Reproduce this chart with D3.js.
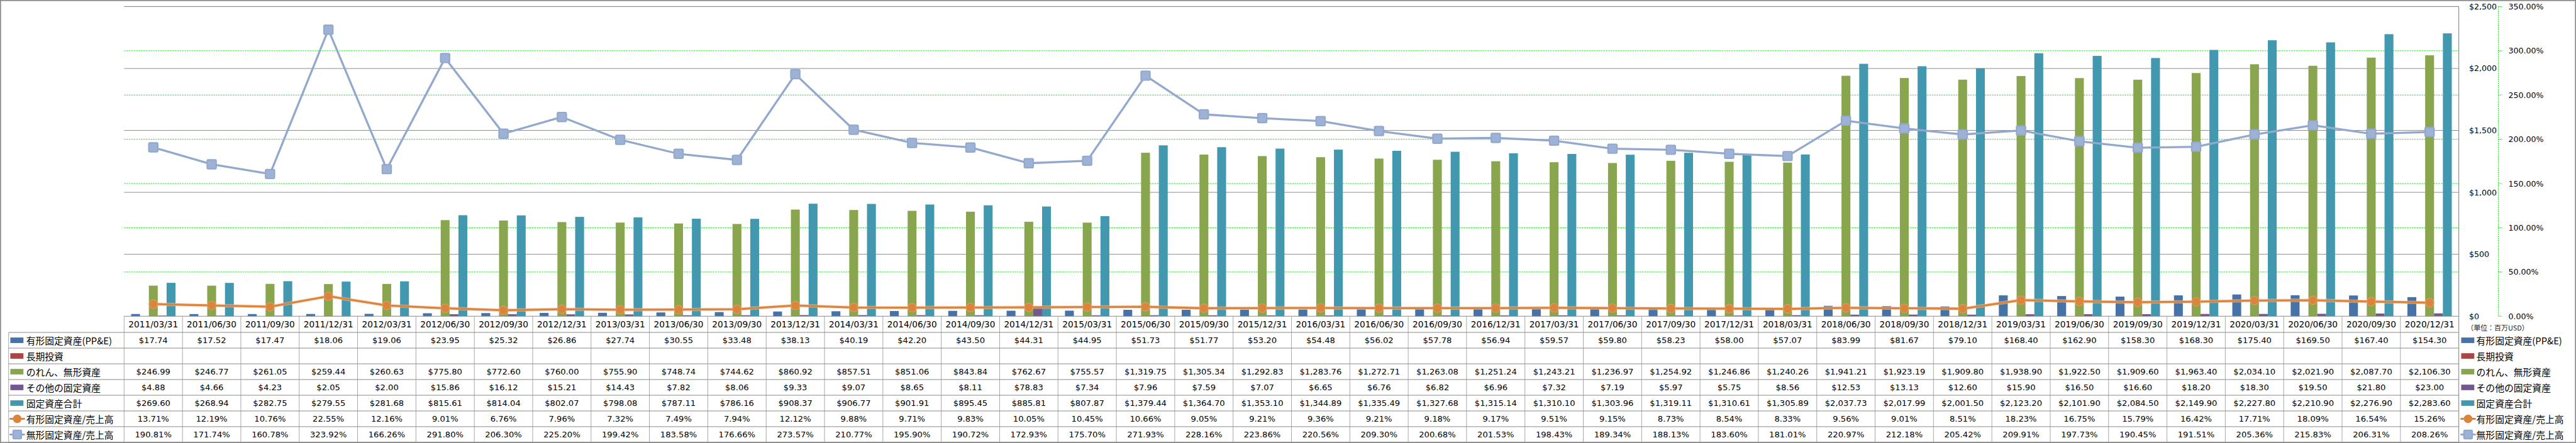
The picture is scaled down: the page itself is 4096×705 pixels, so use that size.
<!DOCTYPE html>
<html><head><meta charset="utf-8">
<script src="https://cdn.jsdelivr.net/npm/d3@7/dist/d3.min.js"></script>
<style>html,body{margin:0;padding:0;background:#fff;overflow:hidden}</style>
</head><body>
<svg id="c" width="4096" height="705" viewBox="0 0 7472 1286"></svg>
<script>
// ---------------- data ----------------
const categories = ["2011/03/31","2011/06/30","2011/09/30","2011/12/31","2012/03/31","2012/06/30","2012/09/30","2012/12/31",
"2013/03/31","2013/06/30","2013/09/30","2013/12/31","2014/03/31","2014/06/30","2014/09/30","2014/12/31",
"2015/03/31","2015/06/30","2015/09/30","2015/12/31","2016/03/31","2016/06/30","2016/09/30","2016/12/31",
"2017/03/31","2017/06/30","2017/09/30","2017/12/31","2018/03/31","2018/06/30","2018/09/30","2018/12/31",
"2019/03/31","2019/06/30","2019/09/30","2019/12/31","2020/03/31","2020/06/30","2020/09/30","2020/12/31"];
const ppe = [17.74,17.52,17.47,18.06,19.06,23.95,25.32,26.86,27.74,30.55,33.48,38.13,40.19,42.20,43.50,44.31,
44.95,51.73,51.77,53.20,54.48,56.02,57.78,56.94,59.57,59.80,58.23,58.00,57.07,83.99,81.67,79.10,
168.40,162.90,158.30,168.30,175.40,169.50,167.40,154.30];
const longInvest = categories.map(() => null);
const intangibles = [246.99,246.77,261.05,259.44,260.63,775.80,772.60,760.00,755.90,748.74,744.62,860.92,
857.51,851.06,843.84,762.67,755.57,1319.75,1305.34,1292.83,1283.76,1272.71,1263.08,1251.24,
1243.21,1236.97,1254.92,1246.86,1240.26,1941.21,1923.19,1909.80,1938.90,1922.50,1909.60,1963.40,
2034.10,2021.90,2087.70,2106.30];
const otherAssets = [4.88,4.66,4.23,2.05,2.00,15.86,16.12,15.21,14.43,7.82,8.06,9.33,9.07,8.65,8.11,78.83,
7.34,7.96,7.59,7.07,6.65,6.76,6.82,6.96,7.32,7.19,5.97,5.75,8.56,12.53,13.13,12.60,
15.90,16.50,16.60,18.20,18.30,19.50,21.80,23.00];
const totalAssets = [269.60,268.94,282.75,279.55,281.68,815.61,814.04,802.07,798.08,787.11,786.16,908.37,
906.77,901.91,895.45,885.81,807.87,1379.44,1364.70,1353.10,1344.89,1335.49,1327.68,1315.14,
1310.10,1303.96,1319.11,1310.61,1305.89,2037.73,2017.99,2001.50,2123.20,2101.90,2084.50,2149.90,
2227.80,2210.90,2276.90,2283.60];
const ppeRatio = [13.71,12.19,10.76,22.55,12.16,9.01,6.76,7.96,7.32,7.49,7.94,12.12,9.88,9.71,9.83,10.05,
10.45,10.66,9.05,9.21,9.36,9.21,9.18,9.17,9.51,9.15,8.73,8.54,8.33,9.56,9.01,8.51,
18.23,16.75,15.79,16.42,17.71,18.09,16.54,15.26];
const intangRatio = [190.81,171.74,160.78,323.92,166.26,291.80,206.30,225.20,199.42,183.58,176.66,273.57,
210.77,195.90,190.72,172.93,175.70,271.93,228.16,223.86,220.56,209.30,200.68,201.53,
198.43,189.34,188.13,183.60,181.01,220.97,212.18,205.42,209.91,197.73,190.45,191.51,
205.36,215.83,206.31,208.26];
const seriesNames = ["有形固定資産(PP&E)","長期投資","のれん、無形資産","その他の固定資産","固定資産合計","有形固定資産/売上高","無形固定資産/売上高"];
const dollarTicks = [0,500,1000,1500,2000,2500];
const pctTicks = [0,50,100,150,200,250,300,350];
const unitLabel = "（単位：百万USD）";

// ---------------- style ----------------
const colors = ["#4572A7","#AA4643","#89A54E","#71588F","#4198AF","#DB843D","#92A8CD"];
const LAT = "'DejaVu Sans','Noto Sans CJK JP',sans-serif";
const CJK = "'Noto Sans CJK JP','DejaVu Sans',sans-serif";

const W = 7472, H = 1286;
const plotL = 360, plotR = 7132, plotT = 19, plotB = 918;
const catRowB = 965, rowH = 45.6;
const tableL = 25;

const svg = d3.select("#c");
svg.append("rect").attr("x",1.5).attr("y",1.5).attr("width",W-3).attr("height",H-3)
  .attr("fill","#fff").attr("stroke","#8a8a8a").attr("stroke-width",3);

const x = d3.scaleBand().domain(categories).range([plotL, plotR]).padding(0);
const bw = x.bandwidth();
const barKeys = [0,1,2,3,4];
const xs = d3.scaleBand().domain(barKeys).range([bw*0.12, bw*0.88]).padding(0);
const yL = d3.scaleLinear().domain([0,2500]).range([plotB, plotT]);
const yR = d3.scaleLinear().domain([0,350]).range([plotB, plotT]);

// green dashed gridlines (percent axis)
svg.append("g").selectAll("line").data(pctTicks.filter(t => t>0 && t<350)).join("line")
  .attr("x1",plotL).attr("x2",plotR).attr("y1",d=>yR(d)).attr("y2",d=>yR(d))
  .attr("stroke","#00e000").attr("stroke-width",1.6).attr("stroke-dasharray","4.5,2.5");
// gray gridlines (dollar axis)
svg.append("g").selectAll("line").data(dollarTicks.filter(t => t>0)).join("line")
  .attr("x1",plotL).attr("x2",plotR).attr("y1",d=>yL(d)).attr("y2",d=>yL(d))
  .attr("stroke","#8a8a8a").attr("stroke-width",1.8);

// bars
const barSeries = [ppe, longInvest, intangibles, otherAssets, totalAssets];
barSeries.forEach((vals, si) => {
  svg.append("g").selectAll("rect").data(vals.map((v,i)=>({v,c:categories[i]})).filter(d=>d.v!=null)).join("rect")
    .attr("x", d => x(d.c) + xs(si))
    .attr("width", xs.bandwidth())
    .attr("y", d => yL(d.v))
    .attr("height", d => yL(0) - yL(d.v))
    .attr("fill", colors[si]);
});

// lines
const cx = c => x(c) + bw/2;
const lineGen = d3.line().x((d,i)=>cx(categories[i])).y(d=>yR(d));
svg.append("path").datum(ppeRatio).attr("d",lineGen).attr("fill","none")
  .attr("stroke","#f3c6a2").attr("stroke-width",10).attr("stroke-linejoin","round").attr("opacity",0.55);
svg.append("path").datum(ppeRatio).attr("d",lineGen).attr("fill","none")
  .attr("stroke",colors[5]).attr("stroke-width",6).attr("stroke-linejoin","round");
svg.append("g").selectAll("circle").data(ppeRatio).join("circle")
  .attr("cx",(d,i)=>cx(categories[i])).attr("cy",d=>yR(d)).attr("r",12.5)
  .attr("fill",colors[5]).attr("stroke","#e79a5c").attr("stroke-width",2);

svg.append("path").datum(intangRatio).attr("d",lineGen).attr("fill","none")
  .attr("stroke",colors[6]).attr("stroke-width",6).attr("stroke-linejoin","round");
svg.append("g").selectAll("rect").data(intangRatio).join("rect")
  .attr("x",(d,i)=>cx(categories[i])-13).attr("y",d=>yR(d)-13).attr("width",26).attr("height",26)
  .attr("rx",3).attr("fill","#9eb2d6").attr("stroke",colors[6]).attr("stroke-width",4);

svg.append("line").attr("x1",plotL).attr("x2",plotR).attr("y1",plotT).attr("y2",plotT)
  .attr("stroke","#8a8a8a").attr("stroke-width",1.8);

// ---------------- table ----------------
const tableB = catRowB + 7*rowH;
const tg = svg.append("g");
tg.selectAll("line.v").data(categories).join("line")
  .attr("x1",d=>x(d)).attr("x2",d=>x(d)).attr("y1",plotB).attr("y2",tableB)
  .attr("stroke","#a6a6a6").attr("stroke-width",1.8);
tg.append("line").attr("x1",tableL).attr("x2",tableL).attr("y1",catRowB).attr("y2",tableB)
  .attr("stroke","#a6a6a6").attr("stroke-width",1.8);
tg.append("line").attr("x1",plotR).attr("x2",plotR).attr("y1",plotT).attr("y2",tableB)
  .attr("stroke","#8a8a8a").attr("stroke-width",2);
tg.append("line").attr("x1",plotL).attr("x2",plotR).attr("y1",plotB).attr("y2",plotB)
  .attr("stroke","#8a8a8a").attr("stroke-width",2);
d3.range(8).forEach(i => {
  const yy = catRowB + i*rowH;
  tg.append("line").attr("x1",tableL).attr("x2",plotR).attr("y1",yy).attr("y2",yy)
    .attr("stroke","#8a8a8a").attr("stroke-width", i===7 ? 3 : 2);
});
tg.selectAll("text.cat").data(categories).join("text")
  .attr("x",d=>cx(d)).attr("y",(plotB+catRowB)/2).attr("text-anchor","middle")
  .attr("dominant-baseline","central").attr("font-family",LAT).attr("font-size",25).attr("fill","#000")
  .text(d=>d);

const fmtD = d3.format("$,.2f");
const fmtP = v => v.toFixed(2) + "%";
const rows = [
  {vals: ppe, fmt: fmtD}, {vals: longInvest, fmt: fmtD}, {vals: intangibles, fmt: fmtD},
  {vals: otherAssets, fmt: fmtD}, {vals: totalAssets, fmt: fmtD},
  {vals: ppeRatio, fmt: fmtP}, {vals: intangRatio, fmt: fmtP}
];
const rowCenter = r => catRowB + r*rowH + rowH/2;
rows.forEach((row, r) => {
  tg.append("g").selectAll("text").data(row.vals.map((v,i)=>({v,c:categories[i]})).filter(d=>d.v!=null)).join("text")
    .attr("x",d=>cx(d.c)).attr("y",rowCenter(r)).attr("text-anchor","middle")
    .attr("dominant-baseline","central").attr("font-family",LAT).attr("font-size",24).attr("fill","#000")
    .text(d=>row.fmt(d.v));
});

function drawKey(g, i, x0, yc) {
  if (i < 5) {
    g.append("rect").attr("x",x0).attr("y",yc-8).attr("width",38).attr("height",16).attr("fill",colors[i]);
  } else {
    g.append("line").attr("x1",x0).attr("x2",x0+40).attr("y1",yc).attr("y2",yc)
      .attr("stroke",colors[i]).attr("stroke-width",5.5).attr("stroke-linecap","round");
    if (i === 5) g.append("circle").attr("cx",x0+20).attr("cy",yc).attr("r",12.5).attr("fill",colors[i]);
    else g.append("rect").attr("x",x0+8).attr("y",yc-12).attr("width",24).attr("height",24).attr("rx",3)
      .attr("fill","#9eb2d6").attr("stroke",colors[i]).attr("stroke-width",4);
  }
}
seriesNames.forEach((name, i) => {
  const yc = rowCenter(i);
  drawKey(tg, i, 30, yc);
  tg.append("text").attr("x",76).attr("y",yc).attr("dominant-baseline","central")
    .attr("font-family",CJK).attr("font-size",27).attr("fill","#000").text(name);
  drawKey(tg, i, 7139, yc);
  tg.append("text").attr("x",7183).attr("y",yc).attr("dominant-baseline","central")
    .attr("font-family",CJK).attr("font-size",27).attr("fill","#000").text(name);
});

// ---------------- right axes ----------------
const ag = svg.append("g");
ag.selectAll("text.d").data(dollarTicks).join("text")
  .attr("x",7162).attr("y",d=>yL(d)).attr("dominant-baseline","central")
  .attr("font-family",LAT).attr("font-size",23).attr("fill","#000")
  .text(d=>d3.format("$,")(d));
ag.append("line").attr("x1",7247).attr("x2",7247).attr("y1",plotT).attr("y2",plotB)
  .attr("stroke","#00dd00").attr("stroke-width",2).attr("stroke-dasharray","3,3");
ag.selectAll("line.t").data(pctTicks).join("line")
  .attr("x1",7247).attr("x2",7258).attr("y1",d=>yR(d)).attr("y2",d=>yR(d))
  .attr("stroke","#00dd00").attr("stroke-width",2).attr("stroke-dasharray","3,2");
ag.selectAll("text.p").data(pctTicks).join("text")
  .attr("x",7276).attr("y",d=>yR(d)).attr("dominant-baseline","central")
  .attr("font-family",LAT).attr("font-size",23).attr("fill","#000")
  .text(d=>d.toFixed(2)+"%");
ag.append("text").attr("x",7155).attr("y",951).attr("dominant-baseline","central")
  .attr("font-family",CJK).attr("font-size",20).attr("fill","#222").text(unitLabel);
</script>
</body></html>
